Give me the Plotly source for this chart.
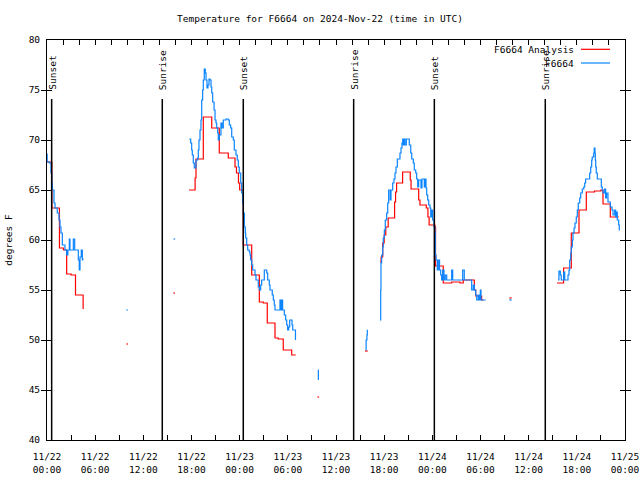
import datetime as dt
import plotly.graph_objects as go

# ---------------- data (hours after 2024-11-22 00:00 UTC, degrees F) ----------------
base = dt.datetime(2024, 11, 22, 0, 0)

analysis_hours = [
    0.0, 0.6, 1.55, 2.05, 2.45, 3.0, 3.55, 4.5, None,
    9.9, 10.1, None,
    15.75, 15.95, None,
    17.69, 18.45, 18.56, 19.47, 20.52, 21.46, 22.58, 23.42, 23.6, 23.85, 24.0, 24.45,
    25.5, 26.45, 26.94, 27.44, 28.4, 28.81, 29.43, 30.48, 30.98, None,
    33.7, 33.9, None,
    39.61, 39.95, None,
    41.48, 41.62, 41.82, 42.0, 42.2, 42.5, 43.3, 43.42, 43.55, 44.3, 45.25, 45.35,
    46.3, 46.46, 47.25, 47.45, 47.6, 48.33, 48.4, 49.36, 50.41, 51.45, 51.85, 53.23,
    53.4, 54.14, 54.35, None,
    57.59, 57.88, None,
    63.53, 64.35, 65.31, 66.27, 67.18, 68.2, 69.0, 69.26, 70.17, 71.21,
]
analysis_temps = [
    67.8, 63.2, 59.2, 59.0, 56.6, 56.5, 54.5, 53.1, None,
    49.6, 49.6, None,
    54.7, 54.7, None,
    65.0, 66.2, 68.1, 72.3, 71.2, 68.7, 68.2, 67.3, 66.7, 65.7, 65.0, 59.5,
    56.5, 53.8, 53.7, 51.7, 50.2, 50.1, 49.0, 48.5, 48.5, None,
    44.3, 44.3, None,
    48.9, 48.9, None,
    57.8, 58.3, 59.7, 60.5, 61.3, 62.2, 63.8, 64.8, 65.7, 66.8, 66.0, 65.1,
    64.0, 63.5, 63.2, 62.3, 61.5, 61.3, 57.4, 55.7, 55.8, 55.7, 56.0, 55.0,
    54.4, 54.0, 54.0, None,
    54.2, 54.2, None,
    55.7, 57.2, 60.7, 63.0, 64.8, 64.9, 65.0, 63.6, 62.3, 62.3,
]

obs_hours = [
    0.0, 0.02, 0.3, 0.5, 0.6, 0.66, 0.87, 1.0, 1.28, 1.49, 1.62, 1.74, 1.91, 2.24,
    2.45, 2.6, 2.78, 2.86, 3.28, 3.45, 3.9, 4.02, 4.11, 4.27, 4.4, 4.45, None,
    9.87, 10.07, None,
    15.76, 15.96, None,
    17.73, 17.9, 18.02, 18.1, 18.22, 18.35, 18.56, 18.77, 18.85, 18.93, 19.06, 19.18,
    19.27, 19.39, 19.47, 19.59, 19.72, 19.81, 19.93, 20.05, 20.18, 20.3, 20.43, 20.52,
    20.64, 20.81, 20.93, 21.05, 21.14, 21.26, 21.34, 21.46, 21.67, 21.8, 21.96, 22.3,
    22.58, 22.71, 22.88, 23.01, 23.21, 23.33, 23.54, 23.7, 23.83, 23.95, 24.13, 24.25,
    24.38, 24.45, 24.58, 24.7, 24.75, 24.88, 25.0, 25.2, 25.29, 25.37, 25.5, 25.62,
    25.91, 26.03, 26.32, 26.45, 26.62, 26.74, 27.07, 27.28, 27.37, 27.49, 27.69, 27.78,
    28.06, 28.19, 28.31, 28.4, 29.02, 29.12, 29.22, 29.35, 29.56, 29.73, 29.86, 29.98,
    30.11, 30.23, 30.52, 30.61, 30.95, None,
    33.78, 33.8, None,
    39.7, 39.75, 39.85, 39.9, 39.92, None,
    41.48, 41.57, 41.6, 41.69, 41.82, 41.89, 42.02, 42.14, 42.31, 42.44, 42.56, 42.75,
    42.85, 43.06, 43.22, 43.35, 43.47, 43.64, 43.97, 44.1, 44.22, 44.31, 44.38, 44.47,
    44.59, 44.76, 45.13, 45.31, 45.43, 45.63, 45.75, 45.93, 46.05, 46.18, 46.3, 46.59,
    46.71, 47.0, 47.12, 47.21, 47.3, 47.42, 47.55, 47.71, 47.8, 47.92, 48.04, 48.21,
    48.33, 48.37, 48.46, 48.62, 48.74, 48.9, 49.04, 49.16, 49.29, 49.45, 49.61, 49.79,
    50.41, 50.54, 51.78, 51.98, 52.9, 53.1, 53.23, 53.4, 53.53, 53.73, 53.85, 53.98,
    54.06, 54.65, None,
    57.59, 57.88, None,
    63.65, 63.77, 63.94, 64.06, 64.36, 64.49, 64.9, 65.02, 65.11, 65.24, 65.31, 65.44,
    65.52, 65.65, 65.77, 65.93, 66.06, 66.18, 66.36, 66.48, 66.68, 66.86, 66.98, 67.1,
    67.6, 67.73, 67.85, 67.92, 68.1, 68.17, 68.26, 68.3, 68.35, 68.42, 68.55, 69.05,
    69.17, 69.26, 69.47, 69.59, 69.7, 69.88, 70.17, 70.38, 70.51, 70.72, 70.84, 70.92,
    71.04, 71.21, 71.29, 71.37,
]
obs_temps = [
    68.6, 67.8, 67.7, 66.7, 65.7, 65.0, 63.7, 63.2, 62.7, 62.0, 61.3, 60.7, 59.5, 59.0,
    58.5, 59.0, 60.1, 59.0, 60.1, 59.0, 58.0, 57.0, 58.3, 59.0, 58.0, 58.2, None,
    53.0, 53.0, None,
    60.1, 60.1, None,
    70.1, 69.7, 69.0, 68.5, 67.7, 67.2, 68.0, 68.2, 69.0, 70.0, 71.0, 72.0,
    74.0, 75.0, 76.0, 77.1, 76.7, 76.0, 75.2, 75.5, 76.1, 76.0, 75.3, 74.7,
    73.8, 73.0, 72.0, 71.7, 71.2, 70.7, 70.0, 70.5, 71.7, 71.2, 72.0, 72.1,
    72.0, 71.5, 71.2, 70.3, 70.0, 69.0, 68.5, 68.0, 67.3, 66.7, 65.7, 64.7,
    63.7, 62.7, 61.3, 60.7, 60.2, 59.5, 59.0, 58.8, 58.5, 58.0, 57.5, 57.0,
    56.5, 56.0, 55.3, 55.0, 55.5, 56.0, 57.0, 57.0, 56.7, 56.0, 55.5, 55.0,
    54.5, 54.0, 53.5, 53.0, 54.0, 53.0, 54.0, 53.0, 52.5, 52.0, 51.5, 51.0,
    51.3, 52.0, 51.5, 51.0, 50.0, None,
    47.0, 46.0, None,
    49.0, 50.0, 50.5, 51.0, 51.0, None,
    52.0, 55.0, 57.7, 58.5, 59.3, 60.2, 61.0, 62.0, 62.7, 63.7, 65.0, 64.0,
    65.0, 65.7, 66.1, 66.7, 67.3, 68.1, 68.7, 69.2, 69.7, 70.1, 69.5, 70.1,
    69.5, 70.1, 69.5, 68.7, 68.1, 67.7, 67.0, 66.7, 66.1, 65.3, 66.0, 65.2,
    66.1, 65.3, 66.1, 65.2, 64.5, 64.0, 63.5, 63.2, 62.3, 63.0, 62.0, 61.3,
    60.7, 58.5, 58.0, 57.0, 58.0, 57.0, 56.5, 56.0, 57.0, 56.0, 56.5, 56.0,
    57.0, 56.0, 57.0, 56.0, 55.0, 55.5, 55.0, 54.5, 54.0, 54.5, 54.0, 55.0,
    54.0, 54.0, None,
    54.0, 54.0, None,
    56.0, 56.9, 56.5, 56.0, 56.8, 56.0, 56.5, 57.0, 58.0, 58.7, 59.3, 60.0,
    60.7, 61.2, 61.7, 62.3, 63.0, 63.7, 64.2, 64.7, 65.1, 65.3, 65.7, 66.1,
    66.7, 67.3, 68.0, 68.3, 68.7, 69.2, 68.7, 68.0, 67.3, 66.7, 66.1, 65.3,
    65.0, 64.7, 65.1, 64.2, 64.7, 63.8, 63.3, 63.0, 62.5, 63.0, 62.3, 62.8,
    62.0, 61.5, 61.0, 61.0,
]

event_hours = [0.58, 14.36, 24.45, 38.2, 48.25, 62.07]
event_labels = ["Sunset", "Sunrise", "Sunset", "Sunrise", "Sunset", "Sunrise"]

series_names = ["F6664 Analysis", "F6664"]
series_colors = ["#ff0000", "#0a84ff"]

y_range = [40, 80]
x_start = base
x_end = base + dt.timedelta(hours=72)


def to_time(hours):
    return [base + dt.timedelta(hours=h) if h is not None else None for h in hours]


FONT = "DejaVu Sans Mono"
FS = 9.5

fig = go.Figure()
fig.add_trace(go.Scatter(x=to_time(analysis_hours), y=analysis_temps, mode="lines",
                         line=dict(color=series_colors[0], width=1.2, shape="hv"),
                         name=series_names[0], connectgaps=False))
fig.add_trace(go.Scatter(x=to_time(obs_hours), y=obs_temps, mode="lines",
                         line=dict(color=series_colors[1], width=1.2, shape="hv"),
                         name=series_names[1], connectgaps=False))
# carrier trace for the top (x2) tick axis
fig.add_trace(go.Scatter(x=[x_start, x_end], y=[None, None], xaxis="x2", mode="lines",
                         showlegend=False, hoverinfo="skip"))

# sunrise / sunset markers
for h, lab in zip(event_hours, event_labels):
    t = base + dt.timedelta(hours=h)
    fig.add_shape(type="line", x0=t, x1=t, y0=40, y1=74.1, xref="x", yref="y",
                  line=dict(color="black", width=1.5))
    fig.add_annotation(x=t, y=74.8, xref="x", yref="y", text=lab, textangle=-90,
                       showarrow=False, xanchor="center", yanchor="bottom",
                       font=dict(family=FONT, size=FS, color="black"))

# gnuplot-style key (text right, sample line left)
W, H = 578.0, 400.0
def px(xp):
    return (xp - 47) / W
def py(yp):
    return (440 - yp) / H

for i, (nm, col) in enumerate(zip(series_names, series_colors)):
    yy = 49.3 + i * 13.7
    fig.add_annotation(x=px(576), y=py(yy), xref="paper", yref="paper", text=nm,
                       showarrow=False, xanchor="right", yanchor="middle",
                       font=dict(family=FONT, size=FS, color="black"))
    fig.add_shape(type="line", x0=px(581), x1=px(610), y0=py(yy), y1=py(yy),
                  xref="paper", yref="paper", line=dict(color=col, width=1.2))

fig.update_layout(
    width=640, height=480,
    margin=dict(l=47, r=15, t=40, b=40, autoexpand=False),
    paper_bgcolor="white", plot_bgcolor="white",
    showlegend=False,
    font=dict(family=FONT, size=FS, color="black"),
    title=dict(text="Temperature for F6664 on 2024-Nov-22 (time in UTC)",
               x=0.5, xanchor="center", y=1 - 19 / 480, yanchor="middle",
               yref="container", font=dict(family=FONT, size=FS, color="black")),
    xaxis=dict(type="date", range=[x_start, x_end], tick0=x_start, dtick=6 * 3600 * 1000,
               tickformat="%m/%d<br>%H:%M", ticks="inside", ticklen=5, tickcolor="black",
               showline=True, linecolor="black", linewidth=1, mirror=True,
               showgrid=False, zeroline=False, automargin=False, ticklabelstandoff=8,
               minor=dict(dtick=3 * 3600 * 1000, tick0=x_start, ticks="inside", ticklen=5,
                          tickcolor="black", showgrid=False),
               tickfont=dict(family=FONT, size=FS, color="black")),
    xaxis2=dict(type="date", range=[x_start, x_end], overlaying="x", side="top",
                anchor="y", tick0=x_start, dtick=2 * 3600 * 1000, ticks="inside",
                ticklen=5, tickcolor="black", showticklabels=False, showgrid=False,
                showline=False, zeroline=False),
    yaxis=dict(range=y_range, dtick=5, tick0=40, ticks="inside", ticklen=5,
               tickcolor="black", showline=True, linecolor="black", linewidth=1,
               mirror="allticks", showgrid=False, zeroline=False, automargin=False,
               ticklabelstandoff=4,
               title=dict(text="degrees F", standoff=14,
                          font=dict(family=FONT, size=FS, color="black")),
               tickfont=dict(family=FONT, size=FS, color="black")),
)

fig.write_html("out.html", config={"displayModeBar": False},
               post_script="document.body.style.margin='0px';")
